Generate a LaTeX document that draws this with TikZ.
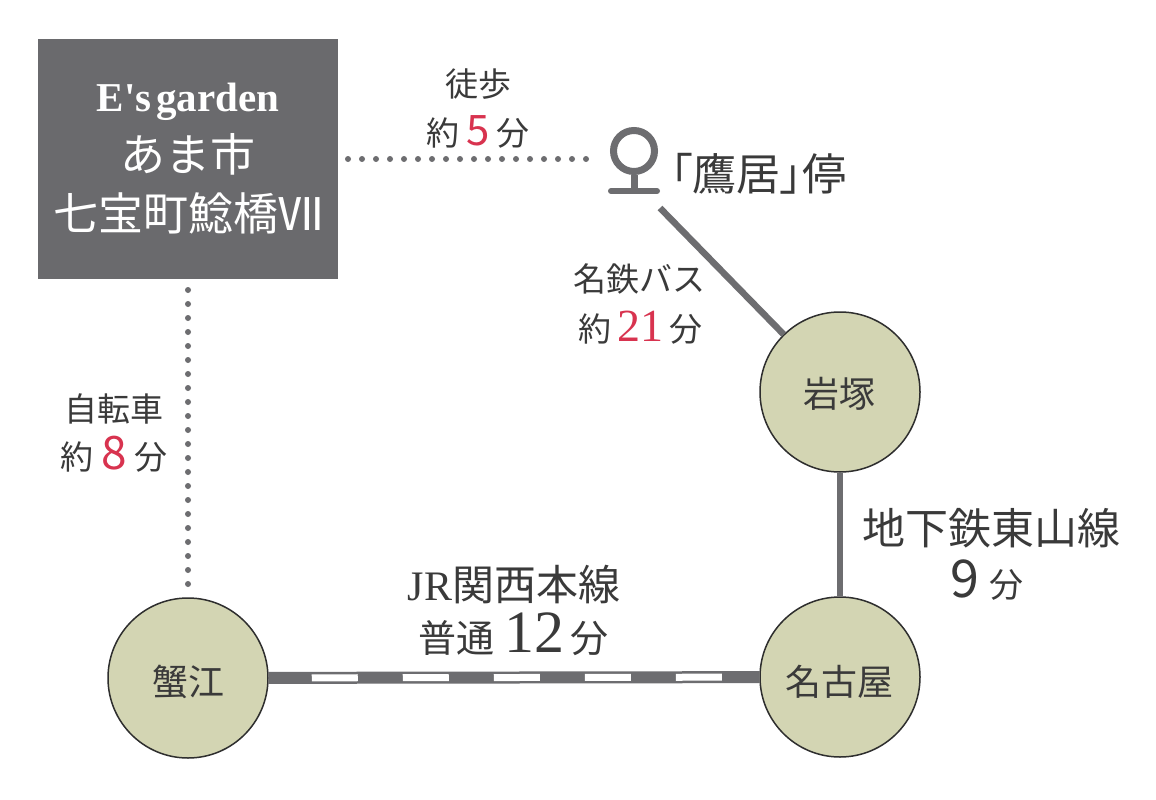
\documentclass[tikz,border=0pt]{standalone}
\usepackage{fontspec}
\setmainfont{Noto Sans CJK JP}
\newfontfamily\latinserif{Liberation Serif}
\newfontfamily\jpp[RawFeature=+palt]{Noto Sans CJK JP}
\usetikzlibrary{calc}

\definecolor{txt}{HTML}{3A3A3A}
\definecolor{redn}{HTML}{D8334F}
\definecolor{linegray}{HTML}{6D6D70}
\definecolor{boxgray}{HTML}{6A6A6D}
\definecolor{sage}{HTML}{D3D5B3}
\definecolor{ringc}{HTML}{2E2E2E}

\newcommand{\fs}[1]{\fontsize{#1pt}{#1pt}\selectfont}
\newcommand{\rednum}[2]{{\color{redn}\fs{#1}#2}}
\newcommand{\sernum}[2]{{\color{redn}\latinserif\fs{#1}#2}}

\begin{document}
\begin{tikzpicture}[x=1pt,y=-1pt,
  lbl/.style={text=txt, inner sep=0pt, anchor=base},
  boxtext/.style={text=white, inner sep=0pt, anchor=base},
  station/.style={circle, draw=ringc, line width=1.5pt, fill=sage, minimum size=160pt, inner sep=0pt},
  stname/.style={text=txt, inner sep=0pt, anchor=base, font=\fs{36}},
  dotline/.style={draw=linegray, line width=6pt, line cap=round, dash pattern=on 0pt off 14pt},
  busline/.style={draw=linegray, line width=6.5pt},
  subline/.style={draw=linegray, line width=5.5pt},
  jrline/.style={draw=linegray, line width=12pt},
  jrdash/.style={draw=white, line width=7pt, dash pattern=on 46pt off 45pt}]

\fill[white] (0,0) rectangle (1156,800);
\useasboundingbox (0,0) rectangle (1156,800);

% home box
\node[fill=boxgray, minimum width=300pt, minimum height=240pt, inner sep=0pt, outer sep=0pt] (home) at (188,159) {};
\node[boxtext, font=\latinserif\bfseries\fs{41}] (hname) at (188,111) {E's\hspace{5pt}garden};
\node[boxtext, font=\fs{45}] (hcity) at (188,171) {あま市};
\node[boxtext, font=\fs{45}] (htown) at (188,230) {七宝町鯰橋Ⅶ};

% stations
\node[station] (iwa) at (840,392) {};
\node[station] (nag) at (840,677) {};
\node[station] (kan) at (188,678) {};
\node[stname] (iwal) at (839,407) {岩塚};
\node[stname] (nagl) at (839,695) {名古屋};
\node[stname] (kanl) at (188,695) {蟹江};

% bus stop icon
\node[circle, draw=linegray, line width=7pt, minimum size=41pt, inner sep=0pt] (stopring) at (634,151) {};
\coordinate (stembot) at ($(stopring.center)+(0,39)$);
\coordinate (baseL) at ($(stopring.center)+(-23,40)$);
\coordinate (baseR) at ($(stopring.center)+(23,40)$);
\draw[draw=linegray, line width=7pt] (stopring.south) -- (stembot);
\draw[draw=linegray, line width=6pt, line cap=round] (baseL) -- (baseR);
\node[lbl, anchor=base west, font=\jpp\fs{44}] (stopl) at (670,190) {「鷹居」停};

% connectors
\draw[dotline, shorten <=10pt, shorten >=18pt] (home.east) -- (home.east -| stopring.west);
\draw[dotline, shorten <=11pt, shorten >=9pt] (home.south) -- (kan.north);
\coordinate (busfrom) at (660,208);
\draw[busline] (busfrom) -- (iwa);
\draw[subline] (iwa) -- (nag);
\draw[jrline] (kan) -- (nag);
\draw[jrdash, shorten <=43pt] (kan) -- (nag);

% labels
\node[lbl, font=\fs{33}] (walk1) at (478,96) {徒歩};
\node[lbl, font=\fs{33}] (walk2) at (478,145) {約\hspace{7pt}\rednum{42}{5}\hspace{6pt}分};
\node[lbl, font=\fs{33}] (bus1) at (639,291) {名鉄バス};
\node[lbl, font=\fs{33}] (bus2) at (640,341) {約\hspace{6pt}\sernum{46}{21}\hspace{6pt}分};
\node[lbl, font=\fs{33}] (bike1) at (114,421) {自転車};
\node[lbl, font=\fs{33}] (bike2) at (114,469) {約\hspace{8pt}\rednum{46}{8}\hspace{8pt}分};
\node[lbl, font=\fs{43}] (sub1) at (991,544) {地下鉄東山線};
\node[lbl, font=\fs{34}] (sub2) at (987,597) {{\fs{52}9}\hspace{10pt}分};
\node[lbl, font=\fs{42}] (jr1) at (514,600) {{\latinserif JR}関西本線};
\node[lbl, font=\fs{38}] (jr2) at (513,652) {普通\hspace{10pt}{\latinserif\fs{60}12}\hspace{6pt}分};

\end{tikzpicture}
\end{document}
